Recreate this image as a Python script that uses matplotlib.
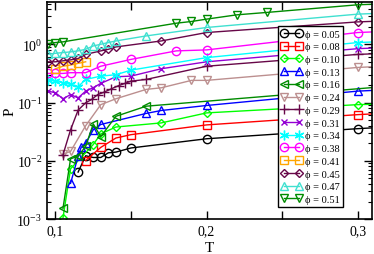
import matplotlib
matplotlib.use("Agg")
import matplotlib.pyplot as plt
from matplotlib.ticker import LogLocator, FixedLocator, NullFormatter

plt.rcParams['font.family'] = ['Liberation Serif', 'DejaVu Serif']
plt.rcParams['mathtext.fontset'] = 'stix'

# phi values and (T, P) data
phis = ['0.05', '0.08', '0.10', '0.13', '0.16', '0.24', '0.29',
        '0.31', '0.34', '0.38', '0.41', '0.45', '0.47', '0.51']

T05 = [0.115, 0.12, 0.125, 0.13, 0.135, 0.14, 0.15, 0.2, 0.3, 0.35]
P05 = [0.0064, 0.0122, 0.0114, 0.0114, 0.0137, 0.0141, 0.0166, 0.0239, 0.0356, 0.042]

T08 = [0.12, 0.13, 0.14, 0.15, 0.2, 0.3, 0.35]
P08 = [0.0101, 0.017, 0.0246, 0.0281, 0.0413, 0.062, 0.072]

T10 = [0.105, 0.11, 0.125, 0.13, 0.14, 0.17, 0.2, 0.3, 0.35]
P10 = [0.00105, 0.0073, 0.019, 0.029, 0.038, 0.0447, 0.0664, 0.092, 0.10]

T13 = [0.11, 0.115, 0.117, 0.12, 0.125, 0.13, 0.16, 0.17, 0.2, 0.3, 0.35]
P13 = [0.0041, 0.0119, 0.017, 0.020, 0.034, 0.042, 0.065, 0.073, 0.089, 0.157, 0.18]

T16 = [0.105, 0.11, 0.115, 0.12, 0.125, 0.13, 0.14, 0.16, 0.32]
P16 = [0.00153, 0.0108, 0.012, 0.0177, 0.043, 0.026, 0.058, 0.0865, 0.19]

T24 = [0.105, 0.11, 0.12, 0.13, 0.14, 0.16, 0.17, 0.19, 0.2, 0.3, 0.35]
P24 = [0.013, 0.0145, 0.040, 0.092, 0.116, 0.168, 0.179, 0.24, 0.24, 0.40, 0.46]

T29 = [0.105, 0.11, 0.115, 0.12, 0.124, 0.128, 0.132, 0.137, 0.142, 0.146, 0.15, 0.16, 0.2, 0.3, 0.35]
P29 = [0.0127, 0.034, 0.074, 0.099, 0.113, 0.137, 0.15, 0.172, 0.196, 0.213, 0.233, 0.249, 0.42, 0.67, 0.75]

T31 = [0.095, 0.1, 0.105, 0.11, 0.115, 0.12, 0.125, 0.13, 0.14, 0.15, 0.17, 0.2, 0.3, 0.35]
P31 = [0.157, 0.147, 0.116, 0.137, 0.12, 0.157, 0.18, 0.213, 0.277, 0.284, 0.38, 0.50, 0.84, 0.95]

T34 = [0.095, 0.1, 0.105, 0.11, 0.115, 0.12, 0.13, 0.14, 0.15, 0.2, 0.3, 0.35]
P34 = [0.242, 0.233, 0.218, 0.204, 0.187, 0.249, 0.284, 0.30, 0.36, 0.59, 1.07, 1.2]

T38 = [0.095, 0.1, 0.105, 0.11, 0.12, 0.13, 0.15, 0.18, 0.2, 0.3, 0.35]
P38 = [0.316, 0.316, 0.316, 0.325, 0.325, 0.42, 0.55, 0.77, 0.80, 1.59, 1.8]

T41 = [0.1, 0.105, 0.11, 0.115, 0.12]
P41 = [0.38, 0.42, 0.44, 0.47, 0.50]

T45 = [0.095, 0.1, 0.105, 0.11, 0.115, 0.12, 0.13, 0.135, 0.14, 0.17, 0.2, 0.3, 0.35]
P45 = [0.50, 0.50, 0.52, 0.54, 0.57, 0.67, 0.77, 0.82, 0.90, 1.14, 1.59, 2.42, 2.7]

T47 = [0.095, 0.1, 0.105, 0.11, 0.115, 0.12, 0.125, 0.13, 0.135, 0.14, 0.16, 0.2, 0.3, 0.35]
P47 = [0.67, 0.70, 0.72, 0.74, 0.77, 0.82, 0.935, 1.0, 1.07, 1.14, 1.39, 1.94, 3.29, 3.7]

T51 = [0.095, 0.1, 0.105, 0.18, 0.19, 0.2, 0.22, 0.24, 0.3, 0.35]
P51 = [1.03, 1.07, 1.1, 2.30, 2.46, 2.7, 3.2, 3.52, 4.76, 5.3]

Ts = [T05, T08, T10, T13, T16, T24, T29, T31, T34, T38, T41, T45, T47, T51]
Ps = [P05, P08, P10, P13, P16, P24, P29, P31, P34, P38, P41, P45, P47, P51]

colors = ['black', '#ff0000', '#00ff00', '#0000ff', '#008b00', '#bc8f8f', '#670748',
          '#9400d3', '#00ffff', '#ff00ff', '#ffa500', '#670748', '#40e0d0', '#008b00']
markers = ['o', 's', 'D', '^', '<', 'v', '+', 'x', (6, 2, 0), 'o', 's', 'D', '^', 'v']
sizes = [6, 5.5, 4.5, 6, 6, 6, 7, 5, 7, 6, 5.5, 4.5, 6, 6]

fig = plt.figure(figsize=(3.74, 2.55), dpi=100)
ax = fig.add_axes([0.126, 0.137, 0.869, 0.851])

for T, P, c, m, s, ph in zip(Ts, Ps, colors, markers, sizes, phis):
    ax.plot(T, P, color=c, marker=m, markersize=s, markerfacecolor='none',
            markeredgecolor=c, markeredgewidth=1.0, linewidth=1.0,
            label='\u03d5 = ' + ph)

ax.set_yscale('log')
ax.set_xlim(0.0945, 0.3095)
ax.set_ylim(1e-3, 5.3)

ax.xaxis.set_major_locator(FixedLocator([0.1, 0.2, 0.3]))
ax.xaxis.set_minor_locator(FixedLocator([0.15, 0.25]))
ax.set_xticklabels(['0,1', '0,2', '0,3'])
ax.yaxis.set_major_locator(LogLocator(base=10, numticks=10))
ax.yaxis.set_minor_locator(LogLocator(base=10, subs=range(2, 10), numticks=10))
ax.yaxis.set_minor_formatter(NullFormatter())

ax.tick_params(which='both', direction='in', top=True, right=True, labelsize=10)
ax.tick_params(which='major', length=6, width=1)
ax.tick_params(which='minor', length=3, width=0.8)
ax.tick_params(axis='x', which='minor', length=6, width=1)
for sp in ax.spines.values():
    sp.set_linewidth(1.2)

ax.set_xlabel('T', fontsize=11, labelpad=3)
ax.set_ylabel('P', fontsize=11, labelpad=0)

leg = ax.legend(loc='upper right', bbox_to_anchor=(0.911, 0.889), borderaxespad=0,
                prop={'family': ['Liberation Serif', 'DejaVu Serif'], 'size': 7.5},
                numpoints=2, handlelength=2.0, handletextpad=0.3,
                labelspacing=0.33, borderpad=0.3, fancybox=False, framealpha=1,
                edgecolor='black')
leg.get_frame().set_linewidth(1.0)

fig.savefig('out.png', dpi=100)
